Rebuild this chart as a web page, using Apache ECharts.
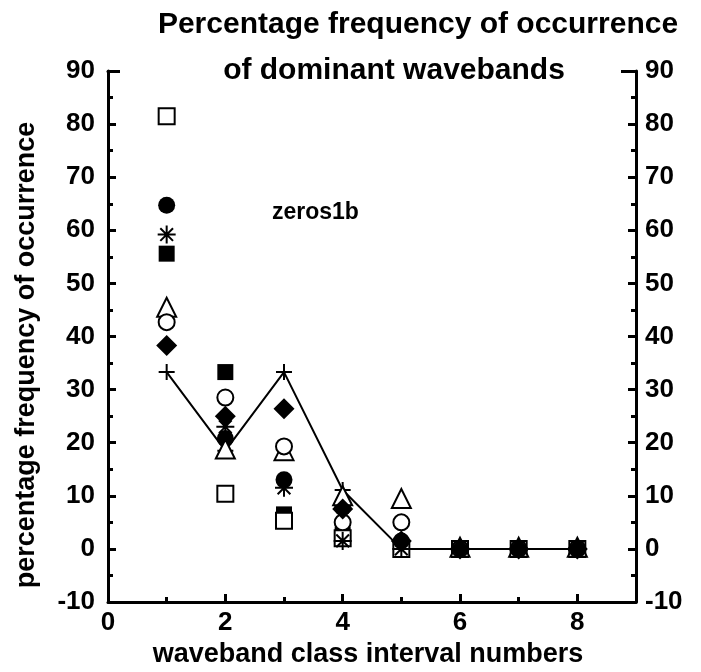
<!DOCTYPE html>
<html>
<head>
<meta charset="utf-8">
<script src="https://cdn.jsdelivr.net/npm/echarts@6/dist/echarts.min.js"></script>
<style>
  html, body { margin: 0; padding: 0; background: #fff; }
  #chart { width: 701px; height: 672px; }
</style>
</head>
<body>
<div id="chart"></div>
<script>
// Waveband class interval numbers (x) and percentage frequency per marker series
const classes = [1, 2, 3, 4, 5, 6, 7, 8];
const filledSquare  = [55.6, 33.3, 6.5, 2.6, 0, 0, 0, 0];
const openSquare    = [81.5, 10.4, 5.3, 2.0, 0, 0, 0, 0];
const filledCircle  = [64.7, 20.8, 13.0, 7.8, 1.5, 0, 0, 0];
const asterisk      = [59.2, 23.0, 11.5, 1.5, 0, 0, 0, 0];
const openTriangle  = [45.5, 18.8, 18.5, 10.0, 9.5, 0.3, 0.3, 0.3];
const openCircle    = [42.7, 28.5, 19.3, 5.0, 5.0, 0, 0, 0];
const filledDiamond = [38.3, 25.0, 26.4, 7.5, 1.5, 0, 0, 0];
const plusLine      = [33.3, 18.5, 33.3, 11.1, 0, 0, 0, 0];
const yTicks = [-10, 0, 10, 20, 30, 40, 50, 60, 70, 80, 90];
const xTicks = [0, 2, 4, 6, 8];

const FONT = '"Liberation Sans", Arial, sans-serif';
const pairs = arr => classes.map((c, i) => [c, arr[i]]);

const PLUS = 'path://M0,-10L0,10M-10,0L10,0';
const STAR = 'path://M0,-10L0,10M-10,0L10,0M-7.07,-7.07L7.07,7.07M-7.07,7.07L7.07,-7.07';

function markerSeries(name, data, symbol, size, filled, stroked) {
  return {
    name: name,
    type: 'scatter',
    data: pairs(data),
    symbol: symbol,
    symbolSize: size,
    itemStyle: stroked
      ? { color: 'none', borderColor: '#000', borderWidth: 2, opacity: 1 }
      : { color: filled ? '#000' : '#fff', borderColor: '#000', borderWidth: filled ? 0 : 2, opacity: 1 },
    z: 3
  };
}

const labelStyle = { fontFamily: FONT, fontWeight: 'bold', fontSize: 26, color: '#000' };

const yAxisBase = {
  type: 'value', min: -10, max: 90, interval: 10,
  axisLine: { show: true, onZero: false, lineStyle: { color: '#000', width: 3 } },
  axisTick: { show: true, inside: true, length: 8, lineStyle: { color: '#000', width: 3 } },
  minorTick: { show: true, splitNumber: 2, length: 5, lineStyle: { color: '#000', width: 3 } },
  splitLine: { show: false },
  axisLabel: Object.assign({ margin: 13, formatter: v => yTicks.includes(v) ? String(v) : '' }, labelStyle)
};

const option = {
  backgroundColor: '#fff',
  animation: false,
  grid: { left: 108, right: 65, top: 71, bottom: 70 },
  xAxis: [
    {
      type: 'value', min: 0, max: 9, interval: 2, position: 'bottom',
      axisLine: { show: true, onZero: false, lineStyle: { color: '#000', width: 3 } },
      axisTick: { show: true, inside: true, length: 8, lineStyle: { color: '#000', width: 3 } },
      splitLine: { show: false },
      axisLabel: Object.assign({ margin: 8, showMaxLabel: false,
        formatter: v => xTicks.includes(v) ? String(v) : '' }, labelStyle)
    },
    {
      // short ticks at the odd class numbers
      type: 'value', min: 0, max: 9, interval: 1, position: 'bottom',
      axisLine: { show: false, onZero: false },
      axisTick: { show: true, inside: true, length: 5, lineStyle: { color: '#000', width: 3 } },
      splitLine: { show: false },
      axisLabel: { show: false }
    },
    {
      type: 'value', min: 0, max: 9, position: 'top',
      axisLine: { show: true, onZero: false, lineStyle: { color: '#000', width: 3 } },
      axisTick: { show: false }, splitLine: { show: false }, axisLabel: { show: false }
    }
  ],
  yAxis: [
    Object.assign({}, yAxisBase, { position: 'left' }),
    Object.assign({}, yAxisBase, { position: 'right', axisLabel: Object.assign({}, yAxisBase.axisLabel, { margin: 9 }) })
  ],
  series: [
    {
      name: 'plus', type: 'line', data: pairs(plusLine),
      symbol: PLUS, symbolSize: 16,
      lineStyle: { color: '#000', width: 2 },
      itemStyle: { color: 'none', borderColor: '#000', borderWidth: 2 },
      z: 2
    },
    markerSeries('filled square', filledSquare, 'rect', 16, true),
    markerSeries('open square', openSquare, 'rect', 16, false),
    markerSeries('filled circle', filledCircle, 'circle', 17, true),
    markerSeries('asterisk', asterisk, STAR, 18, false, true),
    markerSeries('open triangle', openTriangle, 'triangle', 19, false),
    markerSeries('open circle', openCircle, 'circle', 16, false),
    markerSeries('filled diamond', filledDiamond, 'diamond', 21, true)
  ],
  graphic: [
    // blank band where the title's second line crosses the top frame
    { type: 'rect', shape: { x: 120, y: 62, width: 501, height: 16 }, style: { fill: '#fff' }, z: 100, silent: true },
    { type: 'text', x: 418, y: 25, z: 101,
      style: { text: 'Percentage frequency of occurrence', textAlign: 'center', textVerticalAlign: 'middle',
        font: 'bold 30px ' + FONT, fill: '#000' } },
    { type: 'text', x: 394, y: 71, z: 101,
      style: { text: 'of dominant wavebands', textAlign: 'center', textVerticalAlign: 'middle',
        font: 'bold 30px ' + FONT, fill: '#000' } },
    { type: 'text', x: 272, y: 213, z: 101,
      style: { text: 'zeros1b', textAlign: 'left', textVerticalAlign: 'middle',
        font: 'bold 23px ' + FONT, fill: '#000' } },
    { type: 'text', x: 368, y: 655, z: 101,
      style: { text: 'waveband class interval numbers', textAlign: 'center', textVerticalAlign: 'middle',
        font: 'bold 27px ' + FONT, fill: '#000' } },
    { type: 'text', x: 27, y: 355, rotation: Math.PI / 2, z: 101,
      style: { text: 'percentage frequency of occurrence', textAlign: 'center', textVerticalAlign: 'middle',
        font: 'bold 27px ' + FONT, fill: '#000' } }
  ]
};

const chart = echarts.init(document.getElementById('chart'));
chart.setOption(option);
</script>
</body>
</html>
